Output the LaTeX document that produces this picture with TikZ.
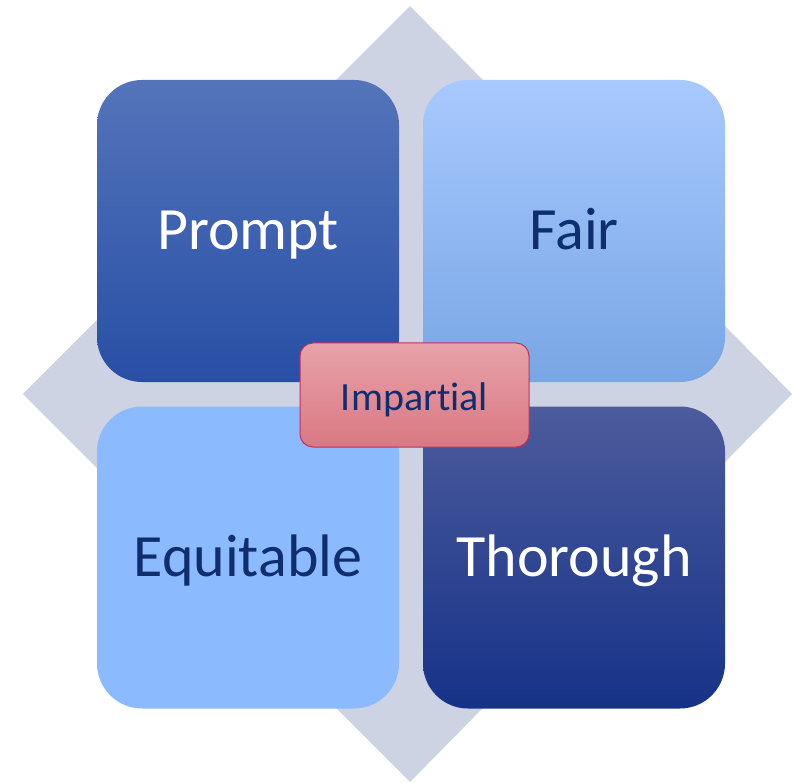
\documentclass[tikz,border=0pt]{standalone}
\usepackage{fontspec}
\setmainfont{Carlito}[Ligatures=NoCommon]
\definecolor{diam}{HTML}{CDD3E3}
\definecolor{navy}{HTML}{0F2E6E}
\definecolor{pTop}{HTML}{5474BA}
\definecolor{pMid}{HTML}{3060B8}
\definecolor{pBot}{HTML}{284FA6}
\definecolor{fTop}{HTML}{A8C9FF}
\definecolor{fMid}{HTML}{97BFFF}
\definecolor{fBot}{HTML}{78A6E4}
\definecolor{eFill}{HTML}{8CBAFF}
\definecolor{tTop}{HTML}{4C5B9C}
\definecolor{tMid}{HTML}{203F94}
\definecolor{tBot}{HTML}{163288}
\definecolor{iTop}{HTML}{E8A2AA}
\definecolor{iBot}{HTML}{D97882}
\definecolor{iLine}{HTML}{C2305C}
\tikzset{
  quad/.style={rectangle, rounded corners=45pt, minimum width=302pt, minimum height=302pt, inner sep=0pt, text height=38pt, text depth=0pt, font=\fontsize{60}{64}\selectfont},
  centrebox/.style={rectangle, rounded corners=13pt, minimum width=229pt, minimum height=104pt, inner sep=0pt, text height=30pt, text depth=0pt, draw=iLine, line width=1pt, top color=iTop, bottom color=iBot, text=navy, font=\fontsize{40}{44}\selectfont}
}
\begin{document}
\begin{tikzpicture}[x=1pt,y=-1pt]
\useasboundingbox (0,0) rectangle (792,783);
\fill[diam] (410,6) -- (792,394) -- (410,782) -- (23,394) -- cycle;
\node[quad, top color=pTop, middle color=pMid, bottom color=pBot, text=white] (prompt) at (248,231) {Prompt};
\node[quad, top color=fTop, middle color=fMid, bottom color=fBot, text=navy] (fair) at (574,231) {Fair};
\node[quad, fill=eFill, text=navy] (equitable) at (248,557.5) {Equitable};
\node[quad, top color=tTop, middle color=tMid, bottom color=tBot, text=white] (thorough) at (574,557.5) {Thorough};
\node[centrebox] (impartial) at (414.5,395) {Impartial};
\end{tikzpicture}
\end{document}
